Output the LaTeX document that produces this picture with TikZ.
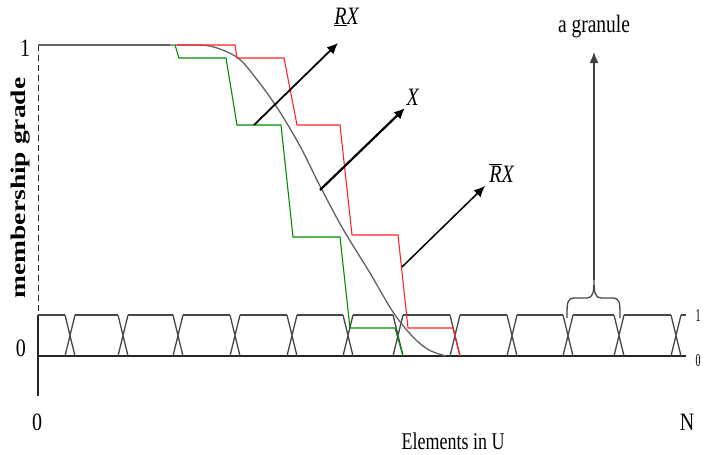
\documentclass[tikz,border=0pt]{standalone}
\usepackage{fontspec}
\usepackage{graphicx}
\setmainfont{Liberation Serif}
\usetikzlibrary{arrows.meta}
\begin{document}
\begin{tikzpicture}[x=1pt,y=-1pt,
  axis/.style={draw=black!85, line width=1.3pt},
  gran/.style={draw=black!72, line width=1.3pt},
  mcurve/.style={draw=black!62, line width=1.3pt},
  upper/.style={draw=red!85, line width=1.1pt},
  lower/.style={draw=green!55!black, line width=1.1pt},
  pointer/.style={draw=black, line width=1.8pt, -{Latex[length=11pt,width=10pt]}},
  gpointer/.style={draw=black!75, line width=1.4pt, -{Latex[length=11pt,width=9pt]}},
  lbl/.style={inner sep=0pt, font=\fontsize{25}{27}\selectfont},
  small/.style={inner sep=0pt, font=\fontsize{18}{19}\selectfont}]
\useasboundingbox[fill=white] (0,0) rectangle (713,455);

% axes
\draw[axis, dashed, dash pattern=on 6pt off 4pt, line width=1pt] (38,45) -- (38,315);
\draw[axis] (38,315) -- (38,396);
\draw[axis] (38,356) -- (686,356);

% granules
\foreach \c in {70,123,178,235,292,348,398,455,512,568,619,676}
  \draw[gran] (\c-5,315) -- (\c+5,356) (\c-5,356) -- (\c+5,315);
\foreach \a/\b in {38/65,75/118,128/173,183/230,240/287,297/343,353/393,403/450,460/507,517/563,573/614,624/671,681/686}
  \draw[gran] (\a,315) -- (\b,315);

% membership function X
\draw[mcurve] (38,45) -- (170,45);
\draw[mcurve] plot[smooth, tension=0.55] coordinates {(170,45) (190,45) (212,46.5) (238,58) (258,81) (278,109) (300,146) (320,186) (343,229) (370,273) (393,312) (413,337) (429,350) (446,356)};

% upper approximation (red)
\draw[upper] (177,45) -- (235,45) -- (237,58) -- (284,58) -- (297,125) -- (340,125) -- (352,235) -- (398,235) -- (408,328) -- (453,328) -- (460,356);
% lower approximation (green)
\draw[lower] (175,45) -- (179,58) -- (226,58) -- (237,125) -- (281,125) -- (293,237) -- (340,237) -- (350,328) -- (395,328) -- (403,356);

% labels
\node[lbl] (one) at (25,48) {\scalebox{0.8}[1]{1}};
\node[lbl] (zero) at (21,348) {\scalebox{0.8}[1]{0}};
\node[lbl] (origin) at (37,422) {\scalebox{0.8}[1]{0}};
\node[lbl] (nlab) at (687,422) {\scalebox{0.8}[1]{N}};
\node[lbl, font=\fontsize{24}{26}\selectfont] (xlab) at (453,441) {\scalebox{0.75}[1]{Elements in U}};
\node[small] (rone) at (698,316) {\scalebox{0.55}[1]{1}};
\node[small] (rzero) at (698,361) {\scalebox{0.55}[1]{0}};
\node[inner sep=0pt, rotate=90, font=\fontsize{27.5}{29}\selectfont\bfseries] (ylab) at (21,188) {\scalebox{1}[0.76]{membership grade}};

% pointers
\coordinate (lows) at (254,125);
\coordinate (lowt) at (338,43);
\node[lbl] (lowl) at (347,17) {\scalebox{0.8}[1]{\textit{\underline{R}X}}};
\draw[pointer] (lows) -- (lowt);

\coordinate (xs) at (320,190);
\coordinate (xt) at (405,108);
\node[lbl] (xl) at (413,97) {\scalebox{0.8}[1]{\textit{X}}};
\draw[pointer, line width=2.2pt] (xs) -- (xt);

\coordinate (ups) at (402,267);
\coordinate (upt) at (485,186);
\node[lbl] (upl) at (502,173) {\scalebox{0.8}[1]{$\overline{\mbox{\textit{R}}}$\textit{X}}};
\draw[pointer, line width=1.5pt] (ups) -- (upt);

% granule brace and pointer
\coordinate (btip) at (594,280);
\draw[gran] (567,318) .. controls (567,302) and (567,298) .. (575,298) -- (587,298) .. controls (593,298) and (594,292) .. (btip) .. controls (594,292) and (595,298) .. (601,298) -- (612,298) .. controls (620,298) and (620,302) .. (620,318);
\coordinate (gt) at (594,52);
\node[lbl] (gl) at (594,27) {\scalebox{0.78}[1]{a granule}};
\draw[gpointer] (btip) -- (gt);
\end{tikzpicture}
\end{document}
